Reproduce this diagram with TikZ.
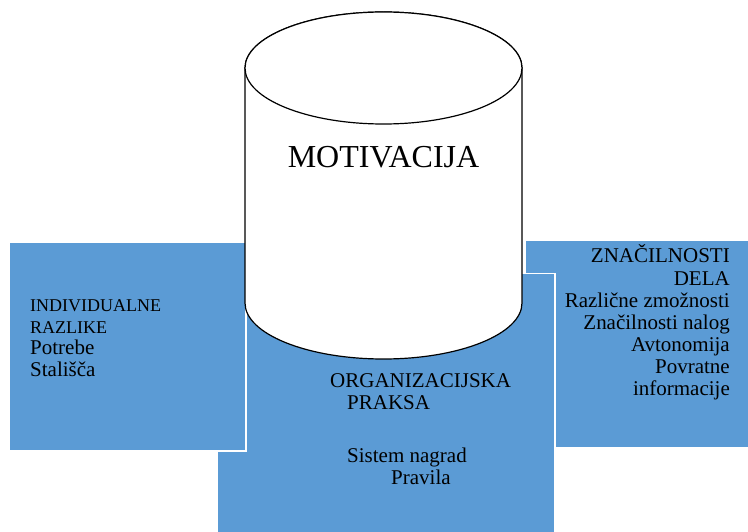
\documentclass[tikz,border=0pt]{standalone}
\usepackage{fontspec}
\setmainfont{Liberation Serif}
\usetikzlibrary{positioning}
\definecolor{panelblue}{RGB}{91,155,213}

\begin{document}
\begin{tikzpicture}[
  x=1pt, y=-1pt,
  panel/.style={fill=panelblue, draw=white, line width=1.5pt, anchor=north west, inner sep=0pt},
  caps/.style={font=\fontsize{18}{21}\selectfont, inner sep=0pt},
  body/.style={font=\fontsize{21}{24}\selectfont, inner sep=0pt},
  drum/.style={fill=white, draw=black, line width=1.2pt}]

  \useasboundingbox (0,0) rectangle (748,532);

  % three boxes behind the cylinder
  \node[panel, minimum width=226pt, minimum height=207pt](dela) at (524,240){};
  \node[panel, minimum width=338pt, minimum height=262pt](praksa) at (216,273){};
  \node[panel, minimum width=237pt, minimum height=208pt](razlike) at (8,242){};

  % cylinder
  \coordinate (lid) at (383.5,68);
  \draw[drum] (245,68) -- (245,303)
    arc[start angle=180, end angle=0, x radius=138.5, y radius=56]
    -- (522,68)
    arc[start angle=0, end angle=-180, x radius=138.5, y radius=56] -- cycle;
  \draw[drum] (lid) ellipse[x radius=138.5, y radius=56];
  \node[font=\fontsize{32}{36}\selectfont, inner sep=0pt, anchor=base](mot) at (383.5,168){MOTIVACIJA};

  % left box
  \node[caps, anchor=base west](ind) at (30,312){INDIVIDUALNE};
  \node[caps, anchor=base west](raz) at (30,333){RAZLIKE};
  \node[body, anchor=base west](pot) at (30,354){Potrebe};
  \node[body, anchor=base west](sta) at (30,376){Stališča};

  % bottom box
  \node[body, anchor=base west](org) at (330,387){ORGANIZACIJSKA};
  \node[body, anchor=base west](pra) at (347,409){PRAKSA};
  \node[body, anchor=base west](sis) at (347,462){Sistem nagrad};
  \node[body, anchor=base west](prv) at (391,484){Pravila};

  % right box
  \node[body, anchor=base east](zna) at (730,263){ZNAČILNOSTI};
  \node[body, anchor=base east](del) at (730,285){DELA};
  \node[body, anchor=base east](rzm) at (730,307){Različne zmožnosti};
  \node[body, anchor=base east](znl) at (730,329){Značilnosti nalog};
  \node[body, anchor=base east](avt) at (730,352){Avtonomija};
  \node[body, anchor=base east](pov) at (730,373){Povratne};
  \node[body, anchor=base east](inf) at (730,395){informacije};
\end{tikzpicture}
\end{document}
